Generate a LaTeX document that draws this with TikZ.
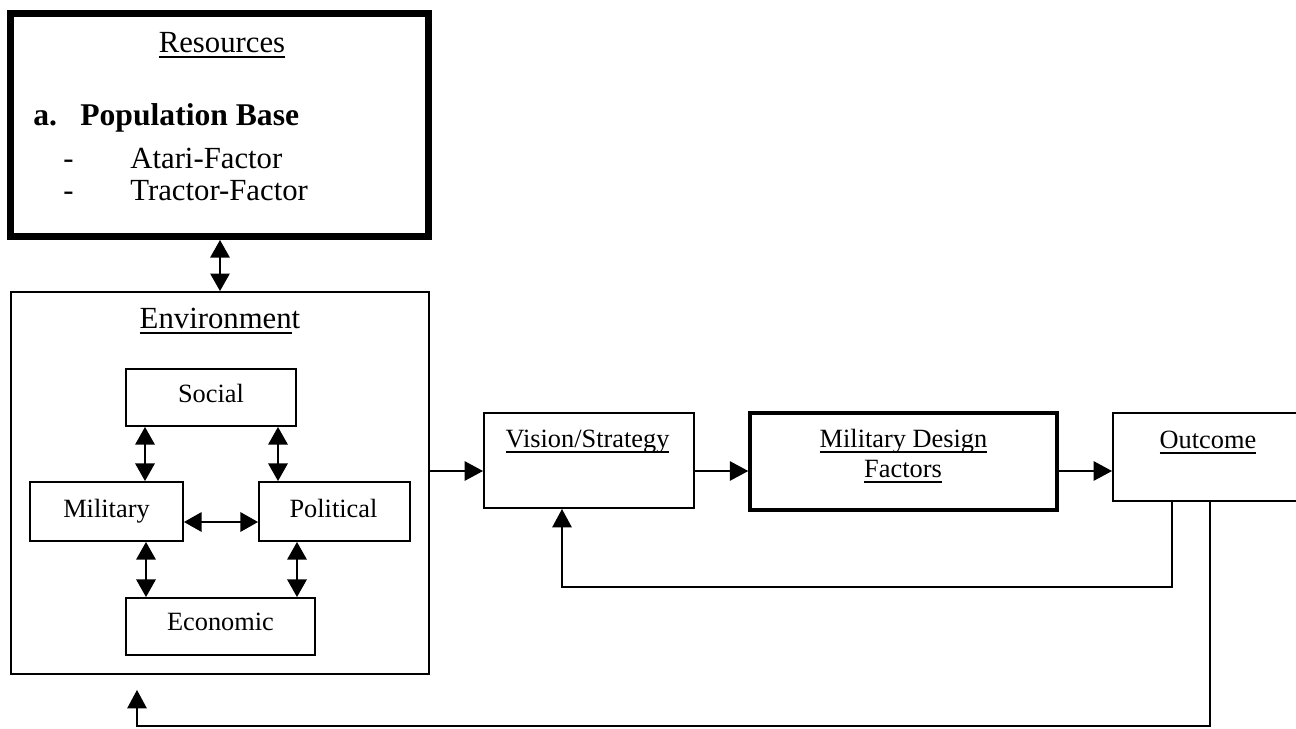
\documentclass[tikz,border=0pt]{standalone}
\usepackage{fontspec}
\setmainfont{Liberation Serif}
\usetikzlibrary{arrows.meta}
% text with a rule at a fixed distance under its baseline
\newcommand{\uln}[1]{\begingroup\setbox0=\hbox{#1}\rlap{\rule[-3.3pt]{\wd0}{1pt}}\box0\endgroup}

\begin{document}
\begin{tikzpicture}[
  x=0.02cm, y=-0.02cm,
  box/.style={draw, rectangle, line width=1.1pt, inner sep=0pt},
  heavybox/.style={box, line width=4pt},
  boldbox/.style={box, line width=2pt},
  big/.style={font=\fontsize{17.5pt}{21pt}\selectfont, inner sep=0pt},
  bigbold/.style={font=\fontsize{18pt}{21pt}\selectfont\bfseries, inner sep=0pt},
  small/.style={font=\fontsize{15pt}{18pt}\selectfont, inner sep=0pt},
  arr/.style={line width=1.1pt, -{Triangle[length=10.5pt,width=11pt]}},
  dbl/.style={line width=1.1pt, {Triangle[length=10pt,width=11pt]}-{Triangle[length=10pt,width=11pt]}}
]
\useasboundingbox (0,0) rectangle (1296,728);
\clip (0,0) rectangle (1296,728);

% ---- boxes ----
\node[heavybox, minimum width=8.36cm, minimum height=4.46cm] (res) at (219.5,125) {};
\node[box, minimum width=8.36cm, minimum height=7.64cm] (env) at (220,483) {};
\node[box, minimum width=3.4cm,  minimum height=1.14cm] (soc) at (211,397.5) {};
\node[box, minimum width=3.06cm, minimum height=1.18cm] (mil) at (106.5,511.5) {};
\node[box, minimum width=3.02cm, minimum height=1.18cm] (pol) at (334.5,511.5) {};
\node[box, minimum width=3.78cm, minimum height=1.14cm] (eco) at (220.5,626.5) {};
\node[box, minimum width=4.2cm,  minimum height=1.9cm]  (vis) at (589,460.5) {};
\node[boldbox, minimum width=6.14cm, minimum height=1.94cm] (mdf) at (903.5,461.5) {};
\node[box, minimum width=3.8cm,  minimum height=1.76cm] (out) at (1208,457) {};

% ---- texts ----
\node[big, anchor=base] (restitle) at (222,52) {\uln{Resources}};
\node[bigbold, anchor=base west] (resa) at (33,125) {a.};
\node[bigbold, anchor=base west] (respop) at (80,125) {Population Base};
\node[big, anchor=base west] (dash1) at (63,168) {-};
\node[big, anchor=base west] (atari) at (130,168) {Atari-Factor};
\node[big, anchor=base west] (dash2) at (63,200) {-};
\node[big, anchor=base west] (tractor) at (130,200) {Tractor-Factor};

\node[big, anchor=base] (envtitle) at (220,328) {\uln{Environmen}t};
\node[small, anchor=base] (soct) at (211,402) {Social};
\node[small, anchor=base] (milt) at (106.5,517) {Military};
\node[small, anchor=base] (polt) at (333.5,517) {Political};
\node[small, anchor=base] (ecot) at (220.5,630) {Economic};

\node[small, anchor=base] (vist) at (587.5,447) {\uln{Vision/Strategy}};
\node[small, anchor=base] (mdft1) at (903.5,447) {\uln{Military Design}};
\node[small, anchor=base] (mdft2) at (903,477) {\uln{Factors}};
\node[small, anchor=base] (outt) at (1208,448) {\uln{Outcome}};

% ---- reference columns / rows for connectors ----
\coordinate (xa) at (145,0);
\coordinate (xb) at (278,0);
\coordinate (xc) at (146,0);
\coordinate (xd) at (297,0);
\coordinate (ya) at (0,522);
\coordinate (yv) at (0,471);
\coordinate (fb1) at (1172,587);
\coordinate (fb2) at (562,587);
\coordinate (lb1) at (1210,726);
\coordinate (lb2) at (137,726);

% ---- connectors ----
\draw[dbl] (env.north |- res.south) -- (env.north);
\draw[dbl] (soc.south -| xa) -- (mil.north -| xa);
\draw[dbl] (soc.south -| xb) -- (pol.north -| xb);
\draw[dbl] (mil.south -| xc) -- (eco.north -| xc);
\draw[dbl] (pol.south -| xd) -- (eco.north -| xd);
\draw[dbl] (mil.east |- ya) -- (pol.west |- ya);

\draw[arr] (env.east |- yv) -- (vis.west |- yv);
\draw[arr] (vis.east |- yv) -- (mdf.west |- yv);
\draw[arr] (mdf.east |- yv) -- (out.west |- yv);

\draw[arr] (out.south -| fb1) -- (fb1) -- (fb2) -- (vis.south -| fb2);
\draw[arr, shorten >=0.3cm] (out.south -| lb1) -- (lb1) -- (lb2) -- (env.south -| lb2);
\end{tikzpicture}
\end{document}
